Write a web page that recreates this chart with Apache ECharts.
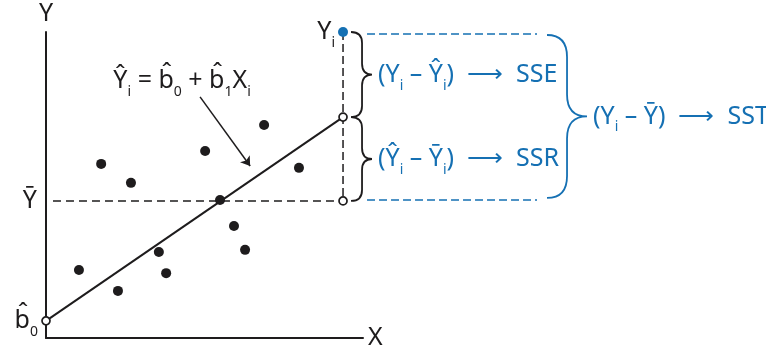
<!DOCTYPE html>
<html>
<head>
<meta charset="utf-8">
<script src="https://cdn.jsdelivr.net/npm/echarts@6/dist/echarts.min.js"></script>
<style>
html, body { margin: 0; padding: 0; background: #fff; }
#main { width: 766px; height: 352px; }
</style>
</head>
<body>
<div id="main"></div>
<script>
var myChart = echarts.init(document.getElementById('main'));

// sample observations (x, y)
var pointsX = [1.04, 1.74, 2.27, 2.68, 3.56, 3.79, 5.02, 5.49, 5.93, 6.28, 6.88, 7.98];
var pointsY = [2.22, 5.69, 1.54, 5.07, 2.81, 2.12, 6.11, 4.51, 3.66, 2.88, 6.96, 5.56];

// fitted line end points: b0 at x = 0, Y-hat_i at x = X_i
var fitX = [0, 9.37];
var fitY = [0.56, 7.22];

var meanY = 4.48;       // Y bar
var obsX = 9.37;        // X_i
var obsY = 10;          // Y_i
var meanLineStartX = 0.22;
var pointerArrow = [[4.86, 7.88], [6.44, 5.62]];

var INK = '#1e1c1d';
var BLUE = '#1570b3';
var FONT = 'Noto Sans';

var subInk = { fontSize: 14, color: INK, fontFamily: FONT, verticalAlign: 'bottom' };
var subBlue = { fontSize: 14, color: BLUE, fontFamily: FONT, verticalAlign: 'bottom' };

function textLabel(position, distance, text, color) {
    return {
        show: true,
        position: position,
        distance: distance,
        formatter: text,
        color: color,
        fontSize: 25,
        lineHeight: 36,
        fontFamily: FONT,
        rich: { d: subInk, s: subBlue }
    };
}

function bracePath(xL, xS, xT, y1, y2, r) {
    var ym = (y1 + y2) / 2;
    return 'M' + xL + ' ' + y1 +
        ' Q' + xS + ' ' + y1 + ' ' + xS + ' ' + (y1 + r) +
        ' L' + xS + ' ' + (ym - r) +
        ' Q' + xS + ' ' + ym + ' ' + xT + ' ' + ym +
        ' Q' + xS + ' ' + ym + ' ' + xS + ' ' + (ym + r) +
        ' L' + xS + ' ' + (y2 - r) +
        ' Q' + xS + ' ' + y2 + ' ' + xL + ' ' + y2;
}

function renderAnnotations(params, api) {
    var top = api.coord([obsX, obsY]);
    var mid = api.coord([obsX, fitY[1]]);
    var bot = api.coord([obsX, meanY]);
    var x0 = top[0];
    var dash = { stroke: BLUE, lineWidth: 1.5, lineDash: [8, 4], fill: null };
    return {
        type: 'group',
        children: [
            { type: 'path', shape: { pathData: bracePath(x0 + 8, x0 + 19, x0 + 29, top[1], mid[1], 11) },
              style: { stroke: INK, lineWidth: 1.8, fill: null } },
            { type: 'path', shape: { pathData: bracePath(x0 + 8, x0 + 19, x0 + 29, mid[1], bot[1], 11) },
              style: { stroke: INK, lineWidth: 1.8, fill: null } },
            { type: 'line', shape: { x1: x0 + 24, y1: top[1] + 2, x2: x0 + 194, y2: top[1] + 2 }, style: dash },
            { type: 'line', shape: { x1: x0 + 24, y1: bot[1] - 1, x2: x0 + 194, y2: bot[1] - 1 }, style: dash },
            { type: 'path', shape: { pathData: bracePath(x0 + 204, x0 + 224, x0 + 244, top[1] + 3, bot[1] - 3, 22) },
              style: { stroke: BLUE, lineWidth: 1.8, fill: null } }
        ]
    };
}

var observations = pointsX.map(function (x, i) { return [x, pointsY[i]]; });

var option = {
    animation: false,
    grid: { left: 46, top: 32, width: 317, height: 306 },
    xAxis: {
        type: 'value', min: 0, max: 10,
        name: 'X', nameLocation: 'end', nameGap: 5,
        nameTextStyle: { color: INK, fontSize: 25, fontFamily: FONT },
        axisLine: { show: true, lineStyle: { color: INK, width: 2 } },
        axisTick: { show: false }, axisLabel: { show: false }, splitLine: { show: false }
    },
    yAxis: {
        type: 'value', min: 0, max: 10,
        name: 'Y', nameLocation: 'end', nameGap: 6,
        nameTextStyle: { color: INK, fontSize: 25, fontFamily: FONT },
        axisLine: { show: true, lineStyle: { color: INK, width: 2 } },
        axisTick: { show: false }, axisLabel: { show: false }, splitLine: { show: false }
    },
    series: [
        {
            name: 'mean', type: 'line', clip: false, symbol: 'none', silent: true,
            data: [[meanLineStartX, meanY], [obsX, meanY]],
            lineStyle: { color: INK, width: 1.5, type: [8, 5] }
        },
        {
            name: 'drop', type: 'line', clip: false, symbol: 'none', silent: true,
            data: [[obsX, obsY], [obsX, meanY]],
            lineStyle: { color: INK, width: 1.5, type: [8, 4] }
        },
        {
            name: 'fit', type: 'line', clip: false, symbol: 'none', silent: true,
            data: [[fitX[0], fitY[0]], [fitX[1], fitY[1]]],
            lineStyle: { color: INK, width: 2 }
        },
        {
            name: 'pointer', type: 'lines', coordinateSystem: 'cartesian2d', silent: true,
            data: [{ coords: pointerArrow }],
            symbol: ['none', 'arrow'], symbolSize: 9,
            lineStyle: { color: INK, width: 1.5, opacity: 1 }
        },
        {
            name: 'observations', type: 'scatter', clip: false, silent: true, z: 4,
            symbolSize: 10, itemStyle: { color: INK, opacity: 1 },
            data: observations
        },
        {
            name: 'open', type: 'scatter', clip: false, silent: true, z: 5,
            symbolSize: 8,
            itemStyle: { color: '#fff', borderColor: INK, borderWidth: 1.7, opacity: 1 },
            data: [[fitX[0], fitY[0]], [fitX[1], fitY[1]], [obsX, meanY]]
        },
        {
            name: 'Yi', type: 'scatter', clip: false, silent: true, z: 5,
            symbolSize: 10, itemStyle: { color: BLUE, opacity: 1 },
            data: [[obsX, obsY]]
        },
        {
            name: 'annotations', type: 'custom', silent: true, z: 3,
            renderItem: renderAnnotations,
            data: [[obsX, obsY]]
        },
        {
            name: 'labels', type: 'scatter', clip: false, silent: true, z: 6,
            symbolSize: 0, itemStyle: { opacity: 1 },
            data: [
                { value: pointerArrow[0], label: Object.assign(textLabel('top', -2, 'Ŷ{d|i} = b\u0302{d|0} + b\u0302{d|1}X{d|i}', INK), { offset: [-18, 0] }) },
                { value: [0, meanY], label: textLabel('left', 9, 'Ȳ', INK) },
                { value: [fitX[0], fitY[0]], label: textLabel('left', 8, 'b\u0302{d|0}', INK) },
                { value: [obsX, obsY], label: textLabel('left', 8, 'Y{d|i}', INK) },
                { value: [obsX, (obsY + fitY[1]) / 2], label: textLabel('right', 35, '(Y{s|i} – Ŷ{s|i})  ⟶  SSE', BLUE) },
                { value: [obsX, (fitY[1] + meanY) / 2], label: textLabel('right', 35, '(Ŷ{s|i} – Ȳ{s|i})  ⟶  SSR', BLUE) },
                { value: [obsX, (obsY + meanY) / 2], label: textLabel('right', 250, '(Y{s|i} – Ȳ)  ⟶  SST', BLUE) }
            ]
        }
    ]
};

myChart.setOption(option);
</script>
</body>
</html>
